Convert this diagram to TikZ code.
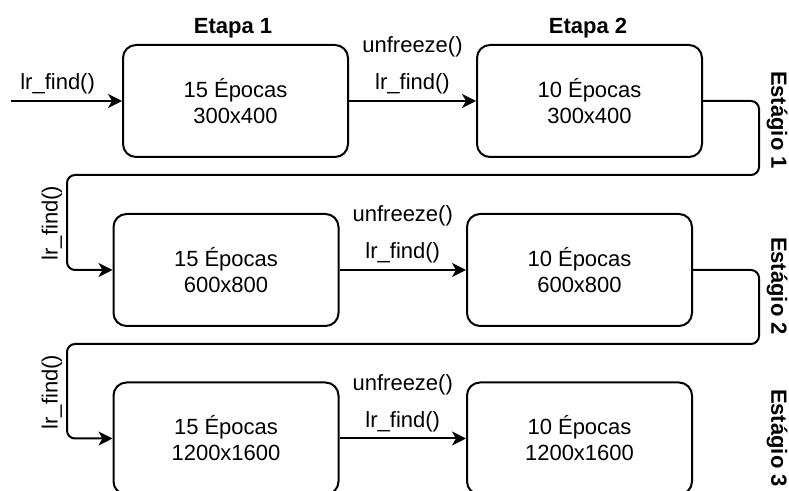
\documentclass[tikz,border=0pt]{standalone}
\usepackage{fontspec}
\setmainfont{Liberation Sans}
\usetikzlibrary{arrows.meta}
\tikzset{
  epoca/.style={draw, line width=1pt, rounded corners=6.5pt, minimum width=112.5pt, minimum height=56pt, inner sep=0pt, align=center, font=\fontsize{11}{13}\selectfont},
  seta/.style={-{Stealth[length=7pt,width=7pt,inset=2pt]}, line width=1pt},
  volta/.style={seta, rounded corners=4pt},
  rotulo/.style={font=\fontsize{11}{13}\selectfont},
  titulo/.style={font=\fontsize{11}{13}\selectfont\bfseries}
}
\begin{document}
\begin{tikzpicture}[x=0.5pt,y=-0.5pt]
\useasboundingbox (0,0) rectangle (789,491);
\clip (0,0) rectangle (789,491);
\node[epoca] (e11) at (235.5,101) {15 Épocas\\300x400};
\node[epoca] (e12) at (589.5,101) {10 Épocas\\300x400};
\node[epoca] (e21) at (226,270) {15 Épocas\\600x800};
\node[epoca] (e22) at (579.5,270) {10 Épocas\\600x800};
\node[epoca] (e31) at (226,438.5) {15 Épocas\\1200x1600};
\node[epoca] (e32) at (579.5,438.5) {10 Épocas\\1200x1600};
\node[titulo] (etapa1) at (233,28) {Etapa 1};
\node[titulo] (etapa2) at (588,28) {Etapa 2};
\node[titulo, rotate=-90] (estagio1) at (777,120) {Estágio 1};
\node[titulo, rotate=-90] (estagio2) at (777,286) {Estágio 2};
\node[titulo, rotate=-90] (estagio3) at (777,438) {Estágio 3};
\coordinate (inicio) at (11,101);
\coordinate (d1) at (759,175);
\coordinate (l1) at (67,175);
\coordinate (d2) at (759,344);
\coordinate (l2) at (67,344);
\draw[seta] (inicio) -- (e11) node[pos=0.42, rotulo, yshift=8.5pt] {lr\_find()};
\draw[seta] (e11) -- (e12) node[midway, rotulo, yshift=8.5pt] {lr\_find()} node[midway, rotulo, yshift=27pt] {unfreeze()};
\draw[seta] (e21) -- (e22) node[midway, rotulo, yshift=8.5pt] {lr\_find()} node[midway, rotulo, yshift=27pt] {unfreeze()};
\draw[seta] (e31) -- (e32) node[midway, rotulo, yshift=8.5pt] {lr\_find()} node[midway, rotulo, yshift=27pt] {unfreeze()};
\draw[volta] (e12.east) -| (d1) -- (l1) |- (e21.west);
\draw[volta] (e22.east) -| (d2) -- (l2) |- (e31.west);
\node[rotulo, rotate=90] (lr2) at (52,223) {lr\_find()};
\node[rotulo, rotate=90] (lr3) at (52,392) {lr\_find()};
\end{tikzpicture}
\end{document}
